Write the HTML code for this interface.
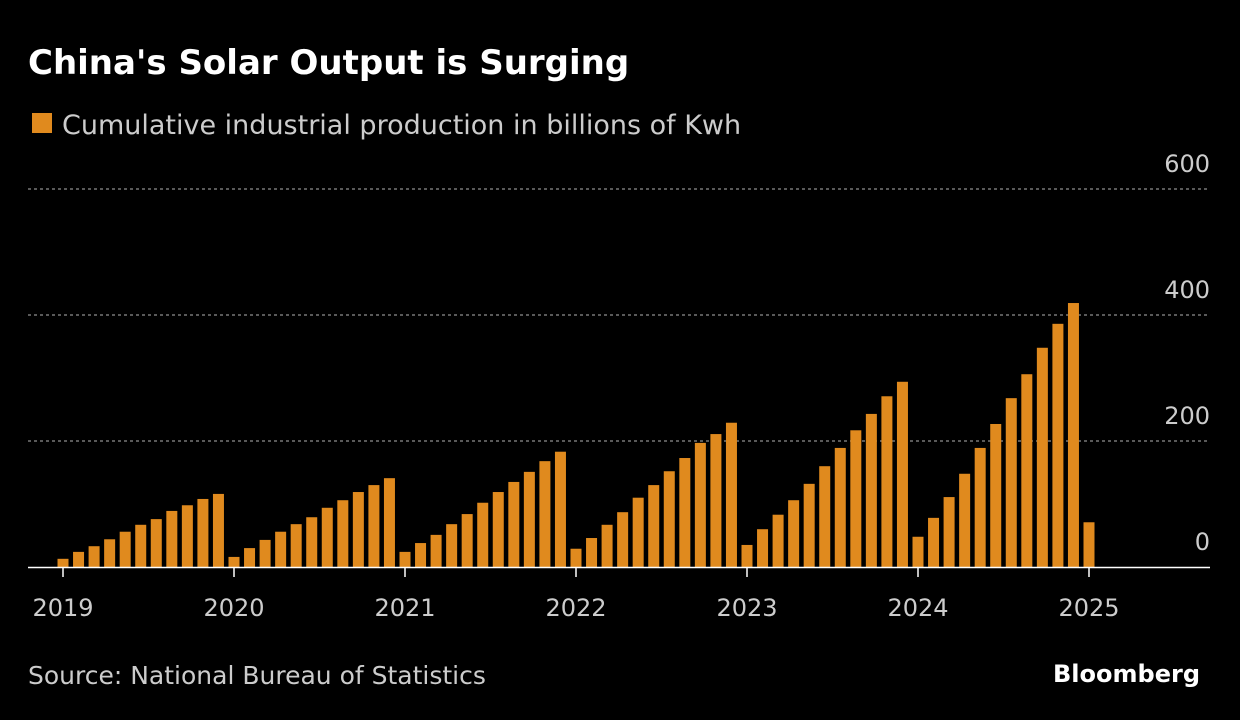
<!DOCTYPE html>
<html><head><meta charset="utf-8"><style>
html,body{margin:0;padding:0;background:#000;}
body{width:1240px;height:716px;overflow:hidden;font-family:"DejaVu Sans","Liberation Sans",sans-serif;}
</style></head><body>
<svg width="1240" height="716" font-family="DejaVu Sans, Liberation Sans, sans-serif">
<text x="28" y="74" fill="#fff" font-size="34" font-weight="bold">China's Solar Output is Surging</text>
<rect x="32" y="113" width="20" height="20" fill="#e08a1e"/>
<text x="62" y="134" fill="#ccc" font-size="27">Cumulative industrial production in billions of Kwh</text>
<g id="grid"></g><g id="bars"></g><g id="xaxis"></g>
<text x="28" y="684" fill="#ccc" font-size="25">Source: National Bureau of Statistics</text>
<text x="1200" y="682" fill="#fff" font-size="24" font-weight="bold" text-anchor="end">Bloomberg</text>
</svg>
<script>
const years=[2019,2020,2021,2022,2023,2024,2025];
const yTicks=[0,200,400,600];
const values=[
13,24,33,44,56,67,76,89,98,108,116,
16,30,43,56,68,79,94,106,119,130,141,
24,38,51,68,84,102,119,135,151,168,183,
29,46,67,87,110,130,152,173,197,211,229,
35,60,83,106,132,160,189,217,243,271,294,
48,78,111,148,189,227,268,306,348,386,419,
71];
const NS="http://www.w3.org/2000/svg";
const y=v=>567-v*0.63;
const yearX=i=>63+i*171;
const barX=i=>yearX(Math.floor(i/11))+(i%11)*171/11;
function mk(tag,attrs,parent){const e=document.createElementNS(NS,tag);for(const k in attrs)e.setAttribute(k,attrs[k]);document.getElementById(parent).appendChild(e);return e;}
yTicks.forEach(t=>{
 if(t>0){const l=mk('line',{x1:28,x2:1210,y1:y(t),y2:y(t),stroke:'#777','stroke-dasharray':'3,3','stroke-width':1.5},'grid');
 
 }
 const tx=mk('text',{x:1210,y:y(t)-17,fill:'#ccc','font-size':24,'text-anchor':'end'},'grid');
 tx.textContent=t;
 
 
});
values.forEach((v,i)=>{
 const r=mk('rect',{x:barX(i)-5.5,y:y(v),width:11,height:v*0.63,fill:'#e08a1e'},'bars');
 
 
});
const ax=mk('line',{x1:28,x2:1210,y1:567.5,y2:567.5,stroke:'#fff','stroke-width':1.5},'xaxis');


years.forEach((yr,i)=>{
 const t=mk('line',{x1:yearX(i),x2:yearX(i),y1:567,y2:577,stroke:'#fff','stroke-width':1.5},'xaxis');
 
 
 const tx=mk('text',{x:yearX(i),y:616,fill:'#ccc','font-size':24,'text-anchor':'middle'},'xaxis');
 tx.textContent=yr;
 
 
});
</script>
</body></html>
